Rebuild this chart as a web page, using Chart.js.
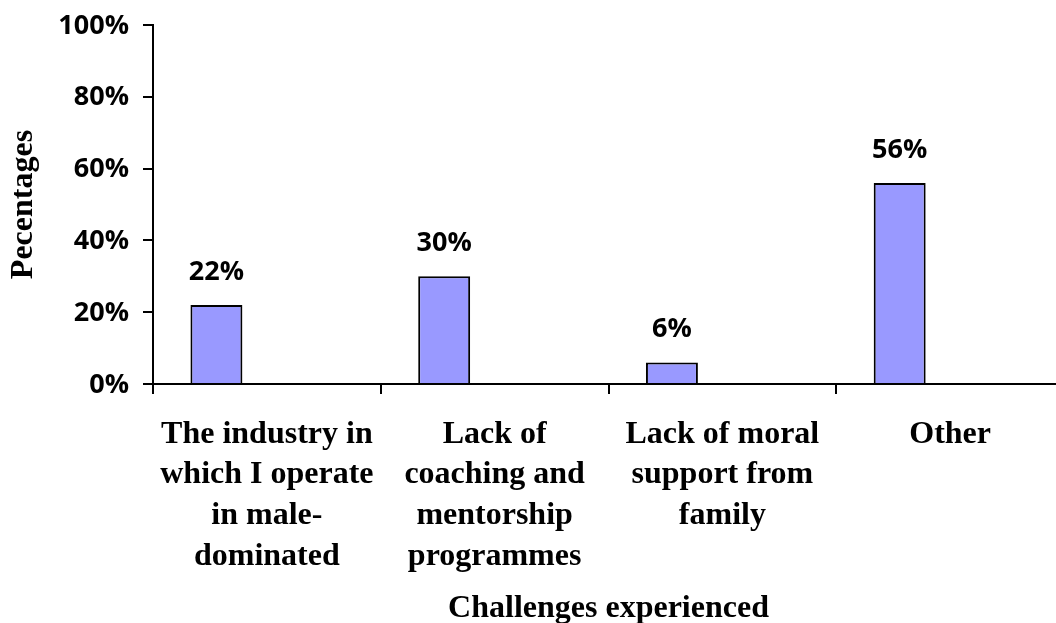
<!DOCTYPE html>
<html>
<head>
<meta charset="utf-8">
<script src="https://cdn.jsdelivr.net/npm/chart.js@4/dist/chart.umd.min.js"></script>
<style>
  html, body { margin: 0; padding: 0; background: #fff; overflow: hidden; }
</style>
</head>
<body>
<canvas id="challenges-chart" width="1068" height="623"></canvas>
<script>
const categories = [
    ['The industry in', 'which I operate', 'in male-', 'dominated'],
    ['Lack of', 'coaching and', 'mentorship', 'programmes'],
    ['Lack of moral', 'support from', 'family'],
    'Other'
];
const percentages = [22, 30, 6, 56];
const emptySeries = [null, null, null, null];
const yMin = 0;
const yMax = 100;
const yStep = 20;

// draws the "22%" style labels above each bar
const barLabels = {
    id: 'barLabels',
    afterDatasetsDraw(chart) {
        const ctx = chart.ctx;
        const meta = chart.getDatasetMeta(0);
        ctx.save();
        ctx.font = 'bold 27px "Open Sans"';
        ctx.fillStyle = '#000';
        ctx.textAlign = 'center';
        ctx.textBaseline = 'alphabetic';
        meta.data.forEach((bar, i) => {
            ctx.fillText(percentages[i] + '%', bar.x, bar.y - 25);
        });
        ctx.restore();
    }
};

const serif = { family: '"Liberation Serif", "Times New Roman", serif', weight: 'bold', size: 32 };

new Chart(document.getElementById('challenges-chart'), {
    type: 'bar',
    data: {
        labels: categories,
        datasets: [
            {
                label: 'Challenges',
                data: percentages,
                backgroundColor: '#9999FF',
                borderColor: '#000',
                borderWidth: 2,
                categoryPercentage: 0.886,
                barPercentage: 0.515
            },
            {
                label: 'empty',
                data: emptySeries,
                backgroundColor: '#993366',
                categoryPercentage: 0.886,
                barPercentage: 0.515
            }
        ]
    },
    options: {
        responsive: false,
        animation: false,
        devicePixelRatio: 1,
        layout: { padding: { left: 0, top: 25, right: 4, bottom: 0 } },
        plugins: {
            legend: { display: false },
            tooltip: { enabled: false }
        },
        scales: {
            x: {
                afterFit: s => { s.height = 239; },
                border: { display: true, color: '#000', width: 2 },
                grid: { drawOnChartArea: false, drawTicks: true, tickLength: 10, color: '#000', lineWidth: 2 },
                ticks: {
                    color: '#000',
                    font: Object.assign({}, serif, { lineHeight: 1.27 }),
                    padding: 20,
                    maxRotation: 0,
                    autoSkip: false
                },
                title: {
                    display: true,
                    text: 'Challenges experienced',
                    color: '#000',
                    font: Object.assign({}, serif, { lineHeight: 1 }),
                    padding: { top: 0, bottom: -2 }
                }
            },
            y: {
                min: yMin,
                max: yMax,
                afterFit: s => {
                    s.width = 153;
                    s.paddingTop = 0;
                    s.paddingBottom = 0;
                },
                border: { display: true, color: '#000', width: 2 },
                grid: { drawOnChartArea: false, drawTicks: true, tickLength: 10, color: '#000', lineWidth: 2 },
                ticks: {
                    stepSize: yStep,
                    color: '#000',
                    font: { family: '"Open Sans"', weight: 'bold', size: 27 },
                    padding: 14,
                    labelOffset: 1,
                    callback: v => v + '%'
                },
                title: {
                    display: true,
                    text: 'Pecentages',
                    color: '#000',
                    font: serif,
                    padding: { top: 5, bottom: 0 }
                }
            }
        }
    },
    plugins: [barLabels]
});
</script>
</body>
</html>
